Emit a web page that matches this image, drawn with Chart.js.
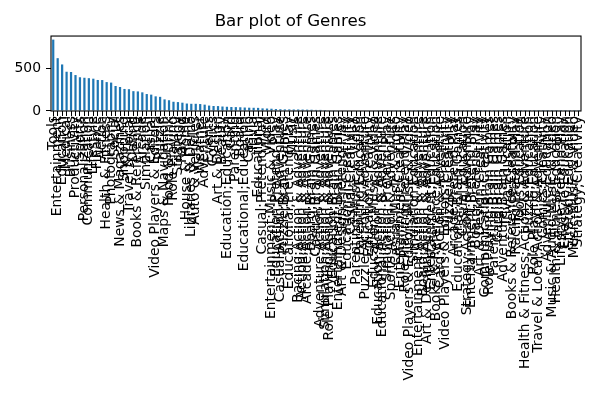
<!DOCTYPE html>
<html>
<head>
<meta charset="utf-8">
<script src="https://cdn.jsdelivr.net/npm/chart.js@4.4.1/dist/chart.umd.min.js"></script>
<style>
  html, body { margin: 0; padding: 0; background: #ffffff; }
  #wrap { width: 600px; height: 400px; }
</style>
</head>
<body>
<div id="wrap"><canvas id="c" width="600" height="400"></canvas></div>
<script>
const chartTitle = "Bar plot of Genres";

const genres = [
  "Tools", "Entertainment", "Education", "Medical", "Business", "Productivity",
  "Sports", "Personalization", "Communication", "Lifestyle", "Finance", "Action",
  "Health & Fitness", "Photography", "Social", "News & Magazines", "Shopping",
  "Travel & Local", "Dating", "Books & Reference", "Arcade", "Simulation", "Casual",
  "Video Players & Editors", "Puzzle", "Maps & Navigation", "Food & Drink",
  "Role Playing", "Strategy", "Racing", "House & Home", "Libraries & Demo",
  "Auto & Vehicles", "Weather", "Adventure", "Events", "Comics", "Art & Design",
  "Beauty", "Education;Education", "Card", "Parenting", "Board",
  "Educational;Education", "Casino", "Trivia", "Educational", "Casual;Pretend Play",
  "Word", "Entertainment;Music & Video", "Education;Pretend Play",
  "Casual;Action & Adventure", "Puzzle;Brain Games", "Educational;Pretend Play",
  "Music", "Racing;Action & Adventure", "Action;Action & Adventure",
  "Arcade;Action & Adventure", "Board;Brain Games", "Casual;Brain Games",
  "Adventure;Action & Adventure", "Simulation;Action & Adventure",
  "Role Playing;Action & Adventure", "Education;Brain Games",
  "Entertainment;Brain Games", "Art & Design;Pretend Play", "Educational;Creativity",
  "Casual;Creativity", "Parenting;Music & Video", "Parenting;Education",
  "Puzzle;Action & Adventure", "Education;Creativity", "Education;Music & Video",
  "Education;Action & Adventure", "Educational;Action & Adventure",
  "Simulation;Pretend Play", "Sports;Action & Adventure", "Casual;Music & Video",
  "Entertainment;Creativity", "Role Playing;Pretend Play",
  "Video Players & Editors;Music & Video", "Simulation;Education",
  "Entertainment;Action & Adventure", "Board;Action & Adventure",
  "Art & Design;Action & Adventure", "Entertainment;Education",
  "Books & Reference;Education", "Card;Action & Adventure",
  "Video Players & Editors;Creativity", "Puzzle;Creativity", "Arcade;Pretend Play",
  "Educational;Brain Games", "Casual;Education", "Strategy;Action & Adventure",
  "Entertainment;Pretend Play", "Board;Pretend Play", "Art & Design;Creativity",
  "Communication;Creativity", "Role Playing;Brain Games", "Parenting;Brain Games",
  "Card;Brain Games", "Adventure;Brain Games", "Trivia;Education",
  "Books & Reference;Creativity", "Racing;Pretend Play", "Tools;Education",
  "Health & Fitness;Action & Adventure", "Puzzle;Education", "Role Playing;Education",
  "Travel & Local;Action & Adventure", "Comics;Creativity", "Adventure;Education",
  "Music & Audio;Music & Video", "Health & Fitness;Education", "Lifestyle;Pretend Play",
  "Lifestyle;Education", "Strategy;Education", "Music;Music & Video",
  "Strategy;Creativity"
];

const counts = [
  842, 623, 549, 463, 460, 424,
  398, 392, 387, 381, 366, 365,
  341, 335, 295, 283, 260,
  257, 234, 231, 220, 200, 193,
  173, 167, 137, 127,
  109, 105, 98, 88, 85,
  85, 82, 75, 64, 59, 58,
  53, 50, 47, 46, 44,
  41, 39, 38, 37, 31,
  29, 27, 23,
  21, 19, 19,
  18, 18, 17,
  16, 15, 13,
  13, 11,
  8, 8,
  7, 7, 6,
  6, 6, 6,
  5, 5, 5,
  4, 4,
  4, 4, 3,
  3, 3,
  3, 3,
  2, 2,
  2, 2,
  2, 2,
  2, 2, 2,
  2, 2, 2,
  2, 1, 1,
  1, 1, 1,
  1, 1, 1,
  1, 1, 1,
  1, 1, 1,
  1, 1, 1,
  1, 1, 1,
  1, 1, 1,
  1
];

const yTickValues = [0, 500];

const FONT = "'DejaVu Sans', 'Liberation Sans', sans-serif";

const framePlugin = {
  id: 'frame',
  afterDatasetsDraw(chart) {
    const a = chart.chartArea;
    const ctx = chart.ctx;
    ctx.save();
    ctx.strokeStyle = '#000000';
    ctx.lineWidth = 1.1;
    ctx.strokeRect(a.left, a.top, a.right - a.left, a.bottom - a.top);
    ctx.restore();
  }
};

new Chart(document.getElementById('c'), {
  type: 'bar',
  data: {
    labels: genres,
    datasets: [{
      data: counts,
      backgroundColor: '#1f77b4',
      borderWidth: 0,
      categoryPercentage: 1.0,
      barPercentage: 0.5
    }]
  },
  options: {
    responsive: false,
    animation: false,
    devicePixelRatio: 1,
    layout: { padding: { left: 0, right: 19, top: 0, bottom: 0 } },
    plugins: {
      legend: { display: false },
      tooltip: { enabled: false },
      title: {
        display: true,
        text: chartTitle,
        color: '#000000',
        font: { family: FONT, size: 16.7, weight: 'normal' },
        padding: { top: 12, bottom: 4 }
      }
    },
    scales: {
      x: {
        type: 'category',
        offset: true,
        grid: {
          display: true,
          offset: false,
          drawOnChartArea: false,
          drawTicks: true,
          tickLength: 5,
          color: '#000000',
          lineWidth: 1
        },
        border: { display: false },
        ticks: {
          autoSkip: false,
          minRotation: 90,
          maxRotation: 90,
          padding: 0,
          color: '#000000',
          font: { family: FONT, size: 13.9 }
        },
        afterFit(scale) { scale.height = 289; }
      },
      y: {
        min: 0,
        max: 884,
        grid: {
          display: true,
          drawOnChartArea: false,
          drawTicks: true,
          tickLength: 5,
          color: '#000000',
          lineWidth: 1
        },
        border: { display: false },
        ticks: {
          padding: 5,
          color: '#000000',
          font: { family: FONT, size: 13.9 }
        },
        afterBuildTicks(scale) {
          scale.ticks = yTickValues.map(v => ({ value: v }));
        },
        afterFit(scale) { scale.width = 51; }
      }
    }
  },
  plugins: [framePlugin]
});
</script>
</body>
</html>
